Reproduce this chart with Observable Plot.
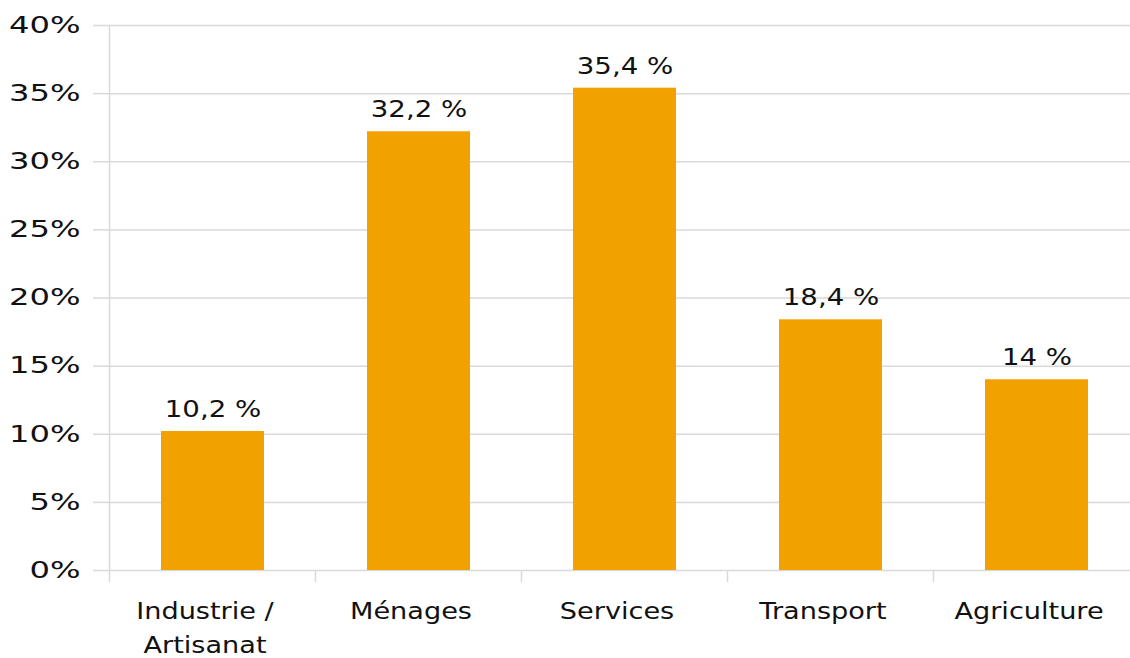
<!DOCTYPE html>
<html><head><meta charset="utf-8">
<script src="https://cdn.jsdelivr.net/npm/d3@7"></script>
<script src="https://cdn.jsdelivr.net/npm/@observablehq/plot@0.6"></script>
<style>body{margin:0;background:#fff} svg{overflow:visible}</style>
</head><body><div id="chart"></div>
<script>
const categories = ["Industrie /\nArtisanat", "Ménages", "Services", "Transport", "Agriculture"];
const values = [10.2, 32.2, 35.4, 18.4, 14];
const valueLabels = ["10,2 %", "32,2 %", "35,4 %", "18,4 %", "14 %"];
const yTicks = [0, 5, 10, 15, 20, 25, 30, 35, 40];
const yTickLabels = ["0%", "5%", "10%", "15%", "20%", "25%", "30%", "35%", "40%"];

const data = categories.map((c, i) => ({cat: c, value: values[i], label: valueLabels[i]}));
const FONT = "DejaVu Sans";
const GRID = "#d9d9d9";

function boundaries(index, scales) {
  const x = scales.x, y = scales.y;
  const step = x(categories[1]) - x(categories[0]);
  const y0 = y(0), yTop = y(40);
  const g = d3.create("svg:g").attr("stroke", GRID).attr("stroke-width", 1.5);
  const edges = categories.map(c => x(c) - step * 0.25);
  edges.push(x(categories[categories.length - 1]) + step * 0.75);
  edges.forEach((e, i) => {
    g.append("line").attr("x1", e).attr("x2", e)
      .attr("y1", i === 0 ? yTop : y0).attr("y2", y0 + 12);
  });
  return g.node();
}

const chart = Plot.plot({
  width: 1130,
  height: 658,
  marginLeft: 108,
  marginRight: 0,
  marginTop: 25,
  marginBottom: 88,
  style: {fontFamily: FONT, background: "#fff", color: "#222"},
  x: {type: "band", domain: categories, range: [108, 1140], paddingInner: 0.5, paddingOuter: 0.25, axis: null},
  y: {domain: [0, 40], range: [570, 25], axis: null},
  marks: [
    Plot.gridY(yTicks, {stroke: GRID, strokeOpacity: 1, strokeWidth: 1.5}),
    Plot.axisY(yTicks, {tickSize: 15, stroke: GRID, strokeWidth: 1.5, tickPadding: 13, fontSize: 23, fill: "#111",
      label: null, tickFormat: d => yTickLabels[yTicks.indexOf(d)], anchor: "left"}),
    boundaries,
    Plot.barY(data, {x: "cat", y: "value", fill: "#F2A200"}),
    Plot.text(data, {x: "cat", y: "value", text: "label", dy: -22, fontSize: 23, fill: "#111"}),
    Plot.text(data, {x: "cat", y: 0, text: "cat", dx: -8, dy: 24, lineAnchor: "top", lineHeight: 1.5, fontSize: 23, fill: "#111"})
  ]
});
document.getElementById("chart").appendChild(chart);

// horizontal stretch of the glyphs, as in the reference
function stretch(sel, k) {
  sel.forEach(t => t.setAttribute("transform", (t.getAttribute("transform") || "") + ` scale(${k},1)`));
}
stretch(chart.querySelectorAll('g[aria-label="y-axis tick label"] text'), 1.4);
const textGroups = chart.querySelectorAll('g[aria-label="text"]');
stretch(textGroups[0].querySelectorAll("text"), 1.2);
stretch(textGroups[1].querySelectorAll("text"), 1.18);
</script>
</body></html>
